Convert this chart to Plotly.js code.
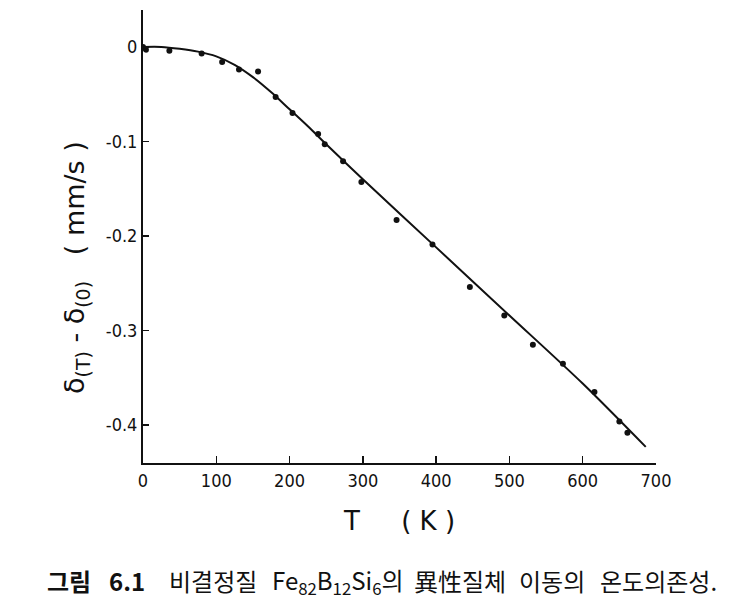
<!DOCTYPE html>
<html>
<head>
<meta charset="utf-8">
<script src="https://cdn.plot.ly/plotly-3.0.1.min.js"></script>
<style>html,body{margin:0;padding:0;background:#fff;}#chart{width:737px;height:607px;}</style>
</head>
<body>
<div id="chart"></div>
<script>
// Measured points
const tempK = [0, 4, 36, 80, 108, 131, 157, 181, 204, 239, 248, 273, 298, 346, 395, 446, 493, 532, 573, 616, 650, 661];
const shift = [0.000, -0.003, -0.004, -0.007, -0.016, -0.024, -0.026, -0.053, -0.070, -0.092, -0.103, -0.121, -0.143, -0.183, -0.209, -0.254, -0.284, -0.315, -0.335, -0.365, -0.396, -0.408];
// Fitted curve
const fitT = [0, 25, 50, 75, 100, 125, 150, 175, 200, 225, 250, 300, 400, 500, 600, 686];
const fitS = [0.000, 0.000, -0.002, -0.005, -0.010, -0.019, -0.032, -0.048, -0.066, -0.084, -0.103, -0.140, -0.212, -0.284, -0.356, -0.423];
// Tick labels
const xTickVals = [0, 100, 200, 300, 400, 500, 600, 700];
const xTickText = ['0', '100', '200', '300', '400', '500', '600', '700'];
const yTickVals = [0, -0.1, -0.2, -0.3, -0.4];
const yTickText = ['0', '-0.1', '-0.2', '-0.3', '-0.4'];
// Caption words
const captionWords = ['<b>그림</b>', '<b>6.1</b>', '비결정질', 'Fe<sub>82</sub>B<sub>12</sub>Si<sub>6</sub>의', '異性질체', '이동의', '온도의존성.'];
const captionLeftPx = [45, 107, 167, 270, 412, 517, 598];

const axisFont = {family: 'DejaVu Sans Condensed, DejaVu Sans, sans-serif', size: 18, color: '#111'};
const sp = '\u00A0';

const traces = [
  {x: fitT, y: fitS, mode: 'lines', line: {color: '#111', width: 2, shape: 'spline', smoothing: 0.8}, hoverinfo: 'skip', showlegend: false},
  {x: tempK, y: shift, mode: 'markers', marker: {color: '#111', size: 6}, showlegend: false}
];

const plotL = 143, plotT = 10, plotW = 737 - 143 - 81, plotH = 607 - 10 - 144;
const annotations = captionWords.map((w, i) => ({
  xref: 'paper', yref: 'paper', x: (captionLeftPx[i] - plotL) / plotW, y: -0.26,
  xanchor: 'left', yanchor: 'middle', showarrow: false, text: w,
  font: {family: 'Noto Sans CJK KR, sans-serif', size: 24, color: '#111'}
}));
// y-axis title (placed as rotated annotation so it can sit off-centre like the original)
annotations.push({
  xref: 'paper', yref: 'paper', x: (76 - plotL) / plotW, y: (plotT + plotH - 268) / plotH,
  xanchor: 'center', yanchor: 'middle', showarrow: false, textangle: -90,
  text: 'δ<sub>(T)</sub>' + sp + '-' + sp + 'δ<sub>(0)</sub>' + sp.repeat(3) + '(' + sp + 'mm/s' + sp + ')',
  font: {family: 'DejaVu Sans, sans-serif', size: 27, color: '#111'}
});

const layout = {
  width: 737, height: 607,
  margin: {l: plotL, r: 81, t: plotT, b: 144},
  paper_bgcolor: '#fff', plot_bgcolor: '#fff',
  showlegend: false,
  xaxis: {
    range: [0, 700], showgrid: false, zeroline: false,
    showline: true, linecolor: '#111', linewidth: 2,
    ticks: 'inside', ticklen: 7, tickwidth: 1.5, tickcolor: '#111',
    tickvals: xTickVals, ticktext: xTickText, tickfont: axisFont,
    title: {text: 'T' + sp.repeat(5) + '(' + sp + 'K' + sp + ')', font: {family: 'DejaVu Sans, sans-serif', size: 26, color: '#111'}, standoff: 22}
  },
  yaxis: {
    range: [-0.44, 0.039], showgrid: false, zeroline: false,
    showline: true, linecolor: '#111', linewidth: 2,
    ticks: 'inside', ticklen: 6, tickwidth: 1.5, tickcolor: '#111',
    tickvals: yTickVals, ticktext: yTickText, tickfont: axisFont
  },
  annotations: annotations
};

Plotly.newPlot('chart', traces, layout, {displayModeBar: false, staticPlot: true});
</script>
</body>
</html>
